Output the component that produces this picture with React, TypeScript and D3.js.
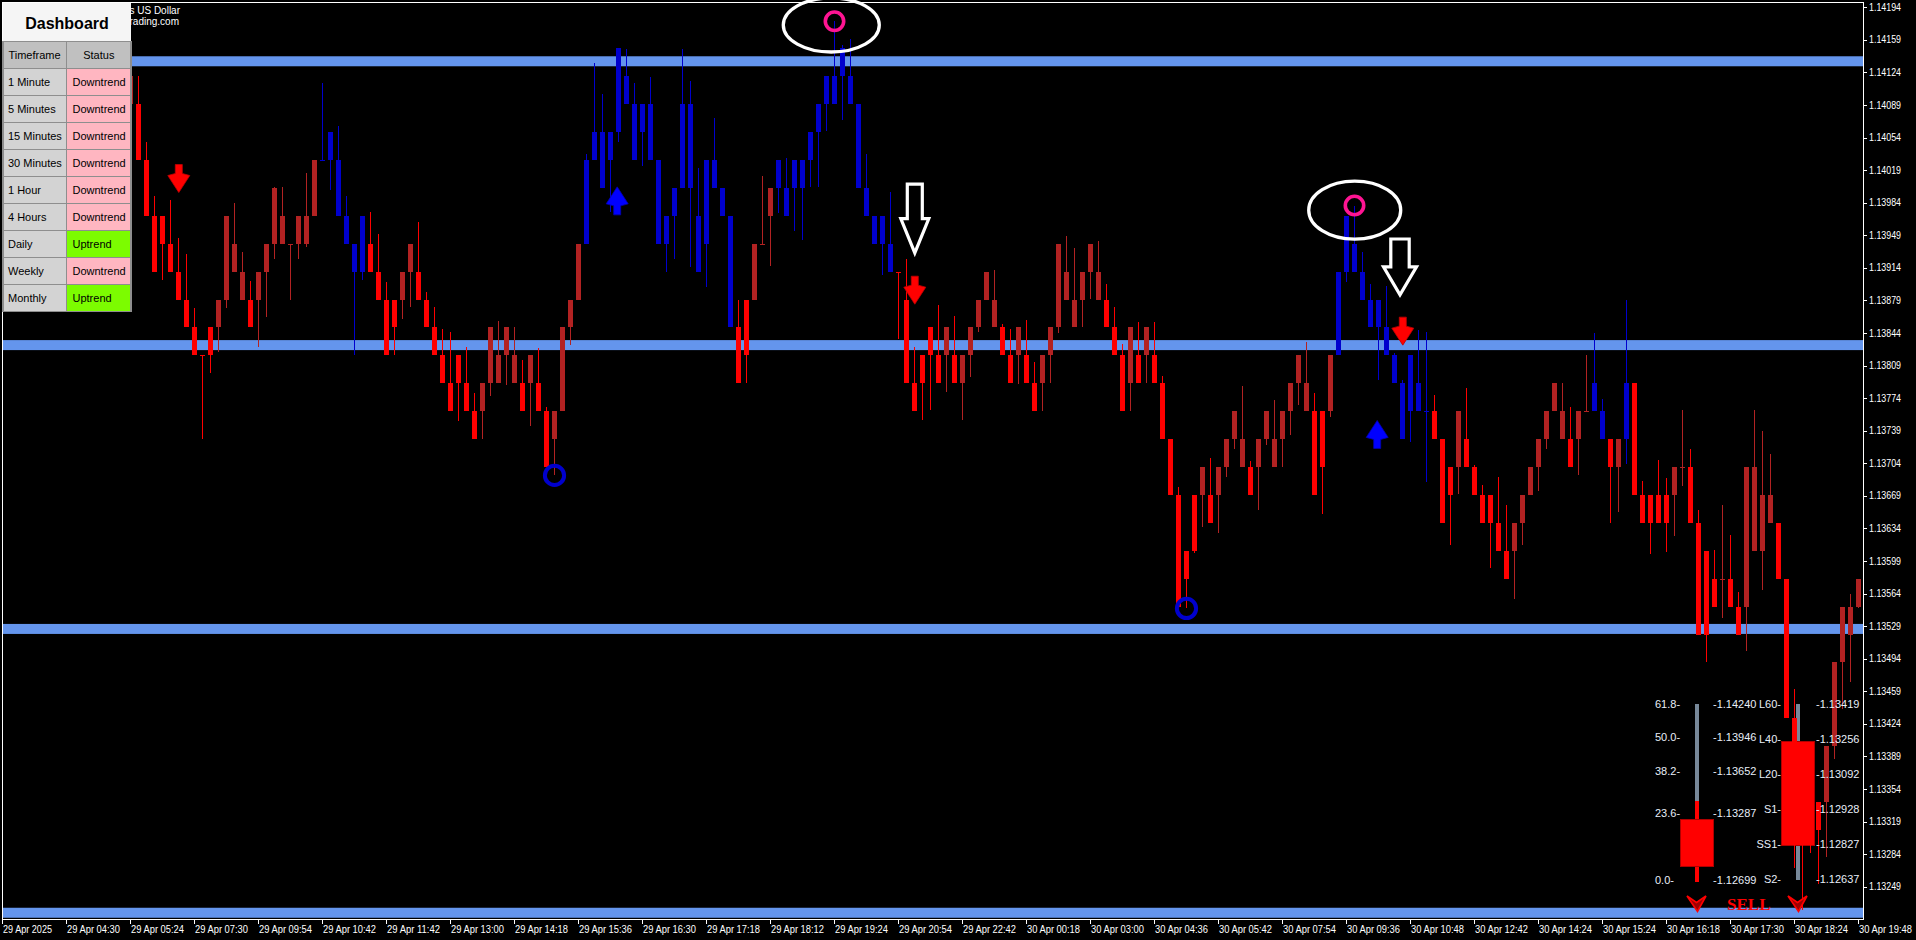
import React from "react";
import * as d3 from "d3";

// ---------------- DATA ----------------
const FIRST_BAR = 16; // bars 0..15 sit behind the dashboard
const LAST_BAR = 232;

const opens = [
  1.1409, 1.1409, 1.1403, 1.1397, 1.1397, 1.1394, 1.1391, 1.1388, 1.1385, 1.1382,
  1.1385, 1.1385, 1.1388, 1.1391, 1.1388, 1.1388, 1.1388, 1.1391, 1.1394, 1.1394,
  1.1394, 1.1394, 1.1394, 1.1397, 1.1403, 1.1403, 1.1403, 1.1397, 1.1394, 1.1391,
  1.1394, 1.1391, 1.1388, 1.1388, 1.1388, 1.1391, 1.1391, 1.1388, 1.1385, 1.1382,
  1.1379, 1.1382, 1.1379, 1.1376, 1.1376, 1.1379, 1.1379, 1.1382, 1.1379, 1.1379,
  1.1379, 1.1379, 1.1376, 1.1373, 1.1376, 1.1385, 1.1388, 1.1394, 1.1403, 1.1406,
  1.1403, 1.1406, 1.1412, 1.1409, 1.1406, 1.1409, 1.1403, 1.1394, 1.1397, 1.14,
  1.1409, 1.1397, 1.1394, 1.1403, 1.14, 1.1397, 1.1385, 1.1388, 1.1388, 1.1394,
  1.1397, 1.14, 1.14, 1.14, 1.14, 1.1403, 1.1406, 1.1409, 1.1409, 1.1412,
  1.1412, 1.1409, 1.14, 1.1397, 1.1394, 1.1394, 1.1391, 1.1388, 1.1379, 1.1382,
  1.1385, 1.1382, 1.1382, 1.1382, 1.1379, 1.1382, 1.1385, 1.1388, 1.1385, 1.1385,
  1.1382, 1.1382, 1.1382, 1.1379, 1.1379, 1.1382, 1.1385, 1.1388, 1.1385, 1.1388,
  1.1391, 1.1388, 1.1388, 1.1385, 1.1382, 1.1379, 1.1382, 1.1382, 1.1382, 1.1379,
  1.1373, 1.1367, 1.1361, 1.1367, 1.1367, 1.1367, 1.1367, 1.137, 1.1373, 1.137,
  1.137, 1.137, 1.1373, 1.137, 1.1373, 1.1376, 1.1379, 1.1376, 1.1376, 1.1376,
  1.1376, 1.1382, 1.1391, 1.1391, 1.1391, 1.1388, 1.1388, 1.1385, 1.1382, 1.1379,
  1.1376, 1.1379, 1.1376, 1.1376, 1.1373, 1.137, 1.137, 1.1373, 1.137, 1.1367,
  1.1367, 1.1364, 1.1361, 1.1361, 1.1364, 1.1367, 1.137, 1.1373, 1.1376, 1.1373,
  1.1373, 1.1373, 1.1376, 1.1376, 1.1376, 1.1373, 1.137, 1.1373, 1.1379, 1.1367,
  1.1367, 1.1367, 1.1367, 1.1367, 1.137, 1.137, 1.1364, 1.1361, 1.1358, 1.1358,
  1.1358, 1.1355, 1.1355, 1.1361, 1.1361, 1.1364, 1.1364, 1.1358, 1.1343, 1.1337,
  1.1334, 1.1334, 1.1334, 1.134, 1.1349, 1.1352, 1.1355,
];

const highs = [
  1.1412, 1.1412, 1.14049, 1.13991, 1.1397, 1.13987, 1.13946, 1.13929, 1.13871, 1.1382,
  1.1385, 1.1388, 1.1397, 1.13984, 1.13931, 1.139, 1.1391, 1.1394, 1.14001, 1.14001,
  1.1394, 1.1397, 1.14016, 1.1403, 1.14113, 1.1406, 1.14066, 1.13991, 1.1394, 1.1397,
  1.13974, 1.1395, 1.13899, 1.1388, 1.1391, 1.1394, 1.13963, 1.13888, 1.13872, 1.13848,
  1.13845, 1.1382, 1.13829, 1.13779, 1.1379, 1.1385, 1.13857, 1.1385, 1.1385, 1.13815,
  1.1382, 1.13828, 1.13765, 1.1376, 1.1385, 1.1388, 1.1394, 1.14036, 1.14134, 1.14101,
  1.1406, 1.1415, 1.14149, 1.14113, 1.1409, 1.14119, 1.1403, 1.1397, 1.14, 1.14149,
  1.14115, 1.14021, 1.1403, 1.14075, 1.14, 1.1397, 1.1388, 1.1388, 1.1394, 1.14013,
  1.14, 1.1403, 1.14032, 1.1403, 1.1403, 1.1406, 1.1409, 1.1412, 1.14179, 1.14154,
  1.1416, 1.1409, 1.14036, 1.1397, 1.1397, 1.13996, 1.1391, 1.13923, 1.13829, 1.1382,
  1.1385, 1.13874, 1.1385, 1.13862, 1.1382, 1.1385, 1.1388, 1.1391, 1.13912, 1.13854,
  1.13848, 1.1385, 1.13858, 1.13813, 1.1382, 1.1385, 1.1394, 1.13948, 1.13935, 1.1391,
  1.1394, 1.13943, 1.13897, 1.13872, 1.13832, 1.1385, 1.13856, 1.1385, 1.13856, 1.13798,
  1.1373, 1.13678, 1.1361, 1.1367, 1.137, 1.1371, 1.137, 1.1373, 1.1376, 1.13787,
  1.13706, 1.1373, 1.1376, 1.13772, 1.1376, 1.1379, 1.1382, 1.13834, 1.13779, 1.1376,
  1.1382, 1.1391, 1.1397, 1.13981, 1.13931, 1.13897, 1.1388, 1.13895, 1.13822, 1.13794,
  1.1382, 1.13847, 1.13845, 1.13777, 1.1373, 1.137, 1.1376, 1.13785, 1.13702, 1.13681,
  1.1367, 1.13689, 1.13659, 1.1364, 1.1367, 1.137, 1.1373, 1.1376, 1.1379, 1.1379,
  1.13764, 1.1376, 1.1382, 1.13844, 1.13773, 1.1373, 1.1373, 1.13879, 1.1379, 1.13685,
  1.1367, 1.13707, 1.13688, 1.137, 1.13761, 1.13719, 1.13654, 1.1361, 1.13611, 1.13659,
  1.13627, 1.13566, 1.137, 1.13761, 1.13739, 1.13714, 1.1364, 1.1358, 1.13461, 1.1337,
  1.1334, 1.1334, 1.134, 1.1349, 1.1355, 1.13564, 1.1358,
];

const lows = [
  1.1409, 1.1403, 1.1397, 1.1391, 1.13901, 1.1391, 1.1388, 1.1385, 1.1382, 1.1373,
  1.13801, 1.13824, 1.13871, 1.1391, 1.1388, 1.1385, 1.13829, 1.13861, 1.13924, 1.1394,
  1.13879, 1.13924, 1.13936, 1.1397, 1.1403, 1.13998, 1.1397, 1.1394, 1.1382, 1.13901,
  1.1391, 1.1388, 1.1382, 1.1382, 1.13859, 1.13872, 1.1388, 1.1385, 1.1382, 1.1379,
  1.1376, 1.13749, 1.1376, 1.1373, 1.1373, 1.13776, 1.1379, 1.13788, 1.1379, 1.1376,
  1.13744, 1.1376, 1.137, 1.13691, 1.1376, 1.13831, 1.13879, 1.1394, 1.1403, 1.14,
  1.13974, 1.14049, 1.1409, 1.1403, 1.14023, 1.1403, 1.1394, 1.1391, 1.13923, 1.14,
  1.13915, 1.1391, 1.13893, 1.14, 1.1397, 1.1385, 1.1379, 1.1379, 1.1388, 1.1394,
  1.13916, 1.13973, 1.1397, 1.13954, 1.13944, 1.14001, 1.14001, 1.14061, 1.1409, 1.14073,
  1.1409, 1.14, 1.1397, 1.1394, 1.13906, 1.1391, 1.13838, 1.1379, 1.1376, 1.13751,
  1.13761, 1.1379, 1.13781, 1.1379, 1.13751, 1.13797, 1.13845, 1.1388, 1.1385, 1.1382,
  1.1379, 1.13789, 1.1379, 1.1376, 1.1376, 1.1379, 1.13844, 1.1388, 1.1385, 1.1385,
  1.13881, 1.1388, 1.1385, 1.1382, 1.1376, 1.1376, 1.1379, 1.1379, 1.1379, 1.1373,
  1.1367, 1.1355, 1.13548, 1.13608, 1.13636, 1.1364, 1.13629, 1.13689, 1.13719, 1.137,
  1.1367, 1.13654, 1.13724, 1.137, 1.137, 1.13734, 1.13767, 1.1376, 1.1367, 1.13649,
  1.13754, 1.1382, 1.13899, 1.1391, 1.1388, 1.1385, 1.13794, 1.1382, 1.1379, 1.1373,
  1.13727, 1.1376, 1.13684, 1.1373, 1.1364, 1.13616, 1.13671, 1.137, 1.1367, 1.1364,
  1.13591, 1.1361, 1.1358, 1.13558, 1.13616, 1.1367, 1.13674, 1.13719, 1.1376, 1.1373,
  1.137, 1.13691, 1.1376, 1.1376, 1.1373, 1.1364, 1.13652, 1.13703, 1.1367, 1.1364,
  1.13606, 1.1364, 1.13609, 1.13626, 1.1368, 1.1364, 1.1352, 1.1349, 1.1355, 1.13538,
  1.1355, 1.1352, 1.13502, 1.1361, 1.13568, 1.1364, 1.1358, 1.1343, 1.13269, 1.13224,
  1.13285, 1.13252, 1.13281, 1.13386, 1.1344, 1.13469, 1.13548,
];

const closes = [
  1.1412, 1.1403, 1.1397, 1.1391, 1.1394, 1.1391, 1.1388, 1.1385, 1.1382, 1.1382,
  1.1382, 1.1388, 1.1397, 1.1394, 1.1391, 1.1385, 1.1391, 1.1394, 1.14, 1.1397,
  1.1394, 1.1397, 1.1397, 1.1403, 1.1403, 1.1406, 1.1397, 1.1394, 1.1391, 1.1397,
  1.1391, 1.1388, 1.1382, 1.1385, 1.1391, 1.1394, 1.1388, 1.1385, 1.1382, 1.1379,
  1.1376, 1.1379, 1.1376, 1.1373, 1.1379, 1.1385, 1.1382, 1.1385, 1.1382, 1.1376,
  1.1382, 1.1376, 1.137, 1.1376, 1.1385, 1.1388, 1.1394, 1.1403, 1.1406, 1.14,
  1.1406, 1.1415, 1.1409, 1.1403, 1.1409, 1.1403, 1.1394, 1.1397, 1.14, 1.1409,
  1.14, 1.1391, 1.1403, 1.14, 1.1397, 1.1385, 1.1379, 1.1382, 1.1394, 1.1394,
  1.14, 1.1403, 1.1397, 1.1403, 1.1403, 1.1406, 1.1409, 1.1412, 1.1412, 1.1415,
  1.1409, 1.14, 1.1397, 1.1394, 1.1397, 1.1391, 1.1391, 1.1379, 1.1376, 1.1379,
  1.1382, 1.1379, 1.1385, 1.1379, 1.1382, 1.1385, 1.1388, 1.1391, 1.1388, 1.1382,
  1.1379, 1.1385, 1.1379, 1.1376, 1.1382, 1.1385, 1.1394, 1.1391, 1.1388, 1.1391,
  1.1394, 1.1391, 1.1385, 1.1382, 1.1376, 1.1385, 1.1379, 1.1385, 1.1379, 1.1373,
  1.1367, 1.1355, 1.1358, 1.1361, 1.137, 1.1364, 1.137, 1.1373, 1.1376, 1.1373,
  1.1367, 1.1373, 1.1376, 1.1373, 1.1376, 1.1379, 1.1382, 1.1379, 1.1367, 1.137,
  1.1382, 1.1391, 1.1397, 1.1394, 1.1388, 1.1385, 1.1385, 1.1382, 1.1379, 1.1373,
  1.1382, 1.1376, 1.1376, 1.1373, 1.1364, 1.1367, 1.1376, 1.137, 1.1367, 1.1364,
  1.1364, 1.1361, 1.1358, 1.1364, 1.1367, 1.137, 1.1373, 1.1376, 1.1379, 1.1376,
  1.137, 1.1376, 1.1376, 1.1379, 1.1373, 1.137, 1.1373, 1.1379, 1.1367, 1.1364,
  1.1364, 1.1364, 1.1364, 1.137, 1.137, 1.1364, 1.1352, 1.1352, 1.1355, 1.1358,
  1.1355, 1.1352, 1.137, 1.137, 1.1367, 1.1367, 1.1358, 1.1343, 1.1337, 1.1331,
  1.1331, 1.1331, 1.134, 1.1349, 1.1355, 1.1355, 1.1358,
];

// R = bearish bar, D = corrective (dark red) bar, B = uptrend bar (blue)
const kinds = (
  "D" + "RRRRRRRRRR" + "DDDD" + "R" + "DDDDDDDD" + "BBBBBB" + "RRRR" + "DD" +
  "RRRRRRRR" + "DDDDD" + "R" + "D" + "RR" + "DDDD" + "BBBBBBBBBBBBBBBBBBB" +
  "RR" + "DDD" + "BBBBBBBBBBBBBBB" + "RRRRRR" + "D" + "R" + "DDDDD" + "RR" + "D" +
  "RR" + "DDDDDDDD" + "RRR" + "D" + "R" + "D" + "RRRRRR" + "D" + "R" + "DDDD" +
  "R" + "DDDDDDD" + "RR" + "D" + "BBBBBBBBBBBB" + "RRR" + "D" + "RRRRRR" +
  "DDDDDDD" + "R" + "DD" + "BB" + "R" + "D" + "B" + "RRRRR" + "DD" + "RRRR" +
  "D" + "RR" + "DDDD" + "RRRRRR" + "DDDDD"
).split("");

const priceTicks = [
  1.14194, 1.14159, 1.14124, 1.14089, 1.14054, 1.14019, 1.13984, 1.13949, 1.13914,
  1.13879, 1.13844, 1.13809, 1.13774, 1.13739, 1.13704, 1.13669, 1.13634, 1.13599,
  1.13564, 1.13529, 1.13494, 1.13459, 1.13424, 1.13389, 1.13354, 1.13319, 1.13284,
  1.13249,
];

const timeLabels = [
  "29 Apr 2025", "29 Apr 04:30", "29 Apr 05:24", "29 Apr 07:30", "29 Apr 09:54",
  "29 Apr 10:42", "29 Apr 11:42", "29 Apr 13:00", "29 Apr 14:18", "29 Apr 15:36",
  "29 Apr 16:30", "29 Apr 17:18", "29 Apr 18:12", "29 Apr 19:24", "29 Apr 20:54",
  "29 Apr 22:42", "30 Apr 00:18", "30 Apr 03:00", "30 Apr 04:36", "30 Apr 05:42",
  "30 Apr 07:54", "30 Apr 09:36", "30 Apr 10:48", "30 Apr 12:42", "30 Apr 14:24",
  "30 Apr 15:24", "30 Apr 16:18", "30 Apr 17:30", "30 Apr 18:24", "30 Apr 19:48",
];
const LABEL_EVERY = 8; // bars between time labels

const levelLines = [1.14136, 1.13831, 1.13526, 1.13221];

const timeframes = ["1 Minute", "5 Minutes", "15 Minutes", "30 Minutes", "1 Hour", "4 Hours", "Daily", "Weekly", "Monthly"];
const statuses = ["Downtrend", "Downtrend", "Downtrend", "Downtrend", "Downtrend", "Downtrend", "Uptrend", "Downtrend", "Uptrend"];

const fibPercents = [61.8, 50.0, 38.2, 23.6, 0.0];
const fibValues = ["1.14240", "1.13946", "1.13652", "1.13287", "1.12699"];
const fibCandle = { rangeTop: 61.8, high: 27.8, open: 21.1, close: 4.7, low: -0.6 };

const pivotLabels = ["L60", "L40", "L20", "S1", "SS1", "S2"];
const pivotValues = ["1.13419", "1.13256", "1.13092", "1.12928", "1.12827", "1.12637"];
const pivotCandle = { wickTop: 0, bodyTop: 1.08, bodyBottom: 4.03, wickBottom: 5.03 }; // in rows

const redArrows = [
  { bar: 22.1, price: 1.1401 },
  { bar: 114.1, price: 1.1389 },
  { bar: 175.1, price: 1.13846 },
];
const blueArrows = [
  { bar: 76.9, price: 1.13986 },
  { bar: 171.9, price: 1.13735 },
];
const hollowArrows = [
  { bar: 114.1, top: 1.14004, headStart: 1.13967, tip: 1.1393, halfW: 14, shaftHalf: 7.5 },
  { bar: 174.75, top: 1.13945, headStart: 1.13915, tip: 1.13885, halfW: 16.5, shaftHalf: 9.2 },
];
const highMarks = [104, 169];
const lowMarks = [69, 148];
const ellipses = [
  { bar: 103.66, price: 1.14175, rx: 48, ry: 27 },
  { bar: 169.09, price: 1.13976, rx: 46, ry: 29 },
];

// ---------------- LAYOUT ----------------
const W = 1916;
const H = 940;
const PLOT_RIGHT = 1863;
const PLOT_BOTTOM = 919;
const FONT = "'Liberation Sans', Arial, sans-serif";

const COLORS = { R: "#ff0000", D: "#b22222", B: "#0000cd" };

export default function App() {
  const x = d3.scaleLinear().domain([0, LAST_BAR]).range([2, 1858]);
  const y = d3.scaleLinear().domain([1.14194, 1.13249]).range([7.3, 886.7]);

  const bars = opens.map((o, i) => ({
    bar: FIRST_BAR + i,
    o,
    h: highs[i],
    l: lows[i],
    c: closes[i],
    k: kinds[i],
  }));

  const fibY = d3.scaleLinear().domain([0, 61.8]).range([880, 704]);
  const pivY = d3.scaleLinear().domain([0, 5]).range([704, 879]);

  const F1_LABEL_X = 1655, F1_CX = 1696.5, F1_VAL_X = 1713;
  const F2_LABEL_X = 1781, F2_CX = 1797.5, F2_VAL_X = 1816;
  const BODY_W = 33;

  const downArrowPath = (cx: number, cy: number) =>
    `M${cx - 3.5},${cy - 14} H${cx + 3.5} V${cy - 5} L${cx + 11},${cy - 3} L${cx},${cy + 14} L${cx - 11},${cy - 3} L${cx - 3.5},${cy - 5} Z`;
  const upArrowPath = (cx: number, cy: number) =>
    `M${cx - 3.5},${cy + 14} H${cx + 3.5} V${cy + 5} L${cx + 11},${cy + 3} L${cx},${cy - 14} L${cx - 11},${cy + 3} L${cx - 3.5},${cy + 5} Z`;
  const sellArrowPath = (cx: number) =>
    `M${cx - 9.5},896 L${cx},902.5 L${cx + 9.5},896 L${cx + 1},911.5 Z`;

  const rowH = 27;
  const rowTop = 41.7;
  const colSplit = 66.7;

  return (
    <div style={{ position: "fixed", left: 0, top: 0, width: W, height: H, overflow: "hidden" }}>
      <svg width={W} height={H} style={{ display: "block" }}>
        <rect x={0} y={0} width={W} height={H} fill="#000" />

        {/* horizontal support / resistance levels */}
        {levelLines.map((p, i) => (
          <rect key={"lv" + i} x={2} y={y(p) - 5} width={PLOT_RIGHT - 2} height={10} fill="#6495ed" />
        ))}

        {/* indicator panels (shapes) */}
        <g shapeRendering="crispEdges">
          <rect x={F1_CX - 2} y={fibY(fibCandle.rangeTop)} width={4} height={fibY(fibCandle.high) - fibY(fibCandle.rangeTop)} fill="#778899" />
          <rect x={F1_CX - 2} y={fibY(fibCandle.high)} width={4} height={fibY(fibCandle.low) - fibY(fibCandle.high)} fill="#ff0000" />
          <rect x={F1_CX - BODY_W / 2} y={fibY(fibCandle.open)} width={BODY_W} height={fibY(fibCandle.close) - fibY(fibCandle.open)} fill="#ff0000" stroke="#b00000" strokeWidth={1} />
          <rect x={F2_CX - 2} y={pivY(pivotCandle.wickTop)} width={4} height={pivY(pivotCandle.wickBottom) - pivY(pivotCandle.wickTop)} fill="#778899" />
          <rect x={F2_CX - BODY_W / 2} y={pivY(pivotCandle.bodyTop)} width={BODY_W} height={pivY(pivotCandle.bodyBottom) - pivY(pivotCandle.bodyTop)} fill="#ff0000" stroke="#b00000" strokeWidth={1} />
        </g>

        {/* candles */}
        <g shapeRendering="crispEdges">
          {bars.map((b) => {
            const cx = Math.round(x(b.bar));
            const col = COLORS[b.k as "R" | "D" | "B"];
            const top = Math.round(y(Math.max(b.o, b.c)));
            const bot = Math.round(y(Math.min(b.o, b.c)));
            const hy = Math.round(y(b.h));
            const ly = Math.round(y(b.l));
            return (
              <g key={"c" + b.bar}>
                <rect x={cx} y={hy} width={1} height={Math.max(1, ly - hy)} fill={col} />
                <rect x={cx - 2} y={top} width={5} height={Math.max(1, bot - top)} fill={col} />
              </g>
            );
          })}
        </g>

        {/* markers */}
        {redArrows.map((a, i) => (
          <path key={"ra" + i} d={downArrowPath(x(a.bar), y(a.price))} fill="#ff0000" stroke="#c00000" strokeWidth={0.8} />
        ))}
        {blueArrows.map((a, i) => (
          <path key={"ba" + i} d={upArrowPath(x(a.bar), y(a.price))} fill="#0000ff" stroke="#0000b0" strokeWidth={0.8} />
        ))}
        {hollowArrows.map((a, i) => {
          const cx = x(a.bar);
          const t = y(a.top), hs = y(a.headStart), tip = y(a.tip);
          const d = `M${cx - a.shaftHalf},${t} H${cx + a.shaftHalf} V${hs} H${cx + a.halfW} L${cx},${tip} L${cx - a.halfW},${hs} H${cx - a.shaftHalf} Z`;
          return <path key={"ha" + i} d={d} fill="none" stroke="#fff" strokeWidth={3.2} strokeLinejoin="miter" />;
        })}
        {ellipses.map((e, i) => (
          <ellipse key={"el" + i} cx={x(e.bar)} cy={y(e.price)} rx={e.rx} ry={e.ry} fill="none" stroke="#fff" strokeWidth={3.3} />
        ))}
        {highMarks.map((bar) => (
          <circle key={"hm" + bar} cx={x(bar) + 0.5} cy={y(highs[bar - FIRST_BAR])} r={9.2} fill="none" stroke="#ff1493" strokeWidth={3.6} />
        ))}
        {lowMarks.map((bar) => (
          <circle key={"lm" + bar} cx={x(bar) + 0.5} cy={y(lows[bar - FIRST_BAR])} r={9.6} fill="none" stroke="#0000cd" strokeWidth={4} />
        ))}

        {/* indicator panel texts */}
        <g fontFamily={FONT} fontSize={11} fill="#e8eef8">
          {fibPercents.map((p, i) => (
            <g key={"fp" + i}>
              <text x={F1_LABEL_X} y={fibY(p)} dy="0.35em">{p.toFixed(1) + "-"}</text>
              <text x={F1_VAL_X} y={fibY(p)} dy="0.35em">{"-" + fibValues[i]}</text>
            </g>
          ))}
          {pivotLabels.map((lab, i) => (
            <g key={"pv" + i}>
              <text x={F2_LABEL_X} y={pivY(i)} dy="0.35em" textAnchor="end">{lab + "-"}</text>
              <text x={F2_VAL_X} y={pivY(i)} dy="0.35em">{"-" + pivotValues[i]}</text>
            </g>
          ))}
        </g>

        {/* sell signal */}
        {[F1_CX, F2_CX].map((cx, i) => (
          <path key={"sa" + i} d={sellArrowPath(cx)} fill="#a00000" stroke="#ff0000" strokeWidth={1.6} strokeLinejoin="miter" />
        ))}
        <text x={1727} y={910} fontFamily="'Liberation Serif', 'Times New Roman', serif" fontWeight="bold" fontSize={17} fill="#ff0000">SELL</text>

        {/* frame & axes */}
        <g shapeRendering="crispEdges" stroke="#fff" strokeWidth={1}>
          <line x1={2.5} y1={2} x2={2.5} y2={PLOT_BOTTOM} />
          <line x1={2} y1={2.5} x2={PLOT_RIGHT} y2={2.5} />
          <line x1={PLOT_RIGHT + 0.5} y1={2} x2={PLOT_RIGHT + 0.5} y2={PLOT_BOTTOM + 1} />
          <line x1={2} y1={PLOT_BOTTOM + 0.5} x2={PLOT_RIGHT + 1} y2={PLOT_BOTTOM + 0.5} />
          {priceTicks.map((p, i) => (
            <line key={"pt" + i} x1={PLOT_RIGHT} x2={PLOT_RIGHT + 4} y1={Math.round(y(p)) + 0.5} y2={Math.round(y(p)) + 0.5} />
          ))}
          {timeLabels.map((_, i) => (
            <line key={"tt" + i} x1={Math.round(x(i * LABEL_EVERY)) + 0.5} x2={Math.round(x(i * LABEL_EVERY)) + 0.5} y1={PLOT_BOTTOM} y2={PLOT_BOTTOM + 5} />
          ))}
        </g>
        <g fontFamily={FONT} fontSize={10} fill="#fff">
          {priceTicks.map((p, i) => (
            <text key={"pl" + i} x={1869} y={y(p)} dy="0.36em" textLength={32} lengthAdjust="spacingAndGlyphs">
              {p.toFixed(5)}
            </text>
          ))}
          {timeLabels.map((t, i) => (
            <text key={"tl" + i} x={x(i * LABEL_EVERY) + 1} y={933} textLength={t.length === 11 ? 49 : 53} lengthAdjust="spacingAndGlyphs">
              {t}
            </text>
          ))}
        </g>

        {/* chart caption (mostly hidden by the dashboard) */}
        <g fontFamily={FONT} fontSize={10} fill="#fff" textAnchor="end">
          <text x={180} y={14}>Euro vs US Dollar</text>
          <text x={179} y={25}>trading.com</text>
        </g>

        {/* dashboard */}
        <g fontFamily={FONT}>
          <rect x={3} y={3} width={128} height={rowTop - 3} fill="#f5f5f5" />
          <text x={67} y={23} textAnchor="middle" dy="0.35em" fontWeight="bold" fontSize={16} fill="#000">Dashboard</text>
          <g shapeRendering="crispEdges">
            <rect x={3} y={rowTop} width={colSplit - 3} height={rowH} fill="#c0c0c0" stroke="#8e8e8e" strokeWidth={1.5} />
            <rect x={colSplit} y={rowTop} width={131 - colSplit} height={rowH} fill="#c0c0c0" stroke="#8e8e8e" strokeWidth={1.5} />
          </g>
          <text x={34.5} y={rowTop + rowH / 2} dy="0.35em" textAnchor="middle" fontSize={11} fill="#000">Timeframe</text>
          <text x={98.8} y={rowTop + rowH / 2} dy="0.35em" textAnchor="middle" fontSize={11} fill="#000">Status</text>
          {timeframes.map((tf, i) => {
            const ry = rowTop + rowH * (i + 1);
            const up = statuses[i] === "Uptrend";
            return (
              <g key={"db" + i}>
                <g shapeRendering="crispEdges">
                  <rect x={3} y={ry} width={colSplit - 3} height={rowH} fill="#d3d3d3" stroke="#8e8e8e" strokeWidth={1.5} />
                  <rect x={colSplit} y={ry} width={131 - colSplit} height={rowH} fill={up ? "#7cfc00" : "#ffb6c1"} stroke="#8e8e8e" strokeWidth={1.5} />
                </g>
                <text x={8} y={ry + rowH / 2} dy="0.35em" fontSize={11} fill="#000">{tf}</text>
                <text x={72.5} y={ry + rowH / 2} dy="0.35em" fontSize={11} fill="#000">{statuses[i]}</text>
              </g>
            );
          })}
        </g>
      </svg>
    </div>
  );
}
